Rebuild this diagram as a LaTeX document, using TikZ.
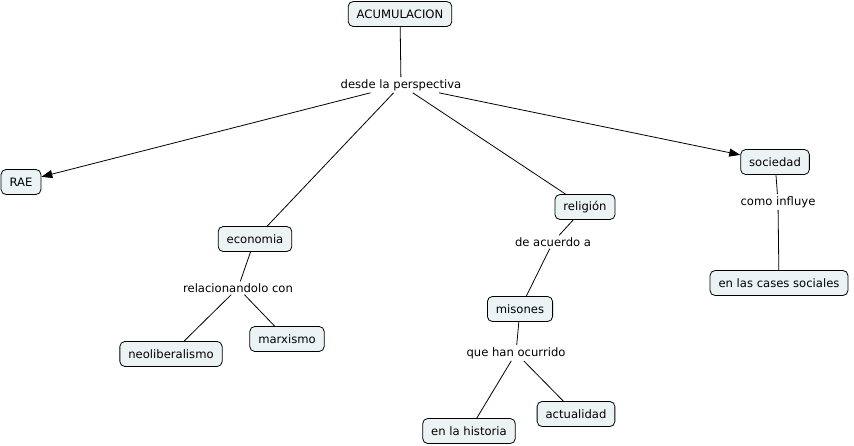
\documentclass[tikz,border=0pt]{standalone}
\usepackage{fontspec}
\setmainfont{DejaVu Sans}
\usetikzlibrary{arrows.meta, positioning}
\definecolor{conceptfill}{RGB}{236,243,245}
\tikzstyle{concept} = [rectangle, rounded corners=5pt, minimum height=25pt, inner xsep=8.5pt, text centered, draw=black, line width=0.8pt, fill=conceptfill]
\tikzstyle{phrase} = [inner sep=2pt, fill=white]
\tikzstyle{line} = [black, line width=0.8pt]
\tikzstyle{arrow} = [line, -{Triangle[length=11pt,width=8pt]}]

\begin{document}
\begin{tikzpicture}[x=1pt, y=-1pt, font=\fontsize{11.6}{13}\selectfont]
				\useasboundingbox (0,0) rectangle (854,445);
				\node (acum)[concept] at (400,14) {ACUMULACION};
				\node (desde)[phrase] at (401,85) {desde la perspectiva};
				\node (rae)[concept] at (21,182) {RAE};
				\node (economia)[concept] at (255,239) {economia};
				\node (religion)[concept] at (585,207) {religión};
				\node (sociedad)[concept] at (775,162) {sociedad};
				\node (como)[phrase] at (778,202) {como influye};
				\node (cases)[concept] at (779,283) {en las cases sociales};
				\node (acuerdo)[phrase] at (553,242) {de acuerdo a};
				\node (misones)[concept] at (520,309) {misones};
				\node (ocurrido)[phrase] at (516,353) {que han ocurrido};
				\node (historia)[concept] at (469,431) {en la historia};
				\node (actualidad)[concept] at (576,414) {actualidad};
				\node (relac)[phrase] at (238,288) {relacionandolo con};
				\node (neolib)[concept] at (171,354) {neoliberalismo};
				\node (marxismo)[concept] at (287,339) {marxismo};
				\draw [line] (acum) -- (desde);
				\draw [arrow] (desde) -- (rae);
				\draw [line] (desde) -- (economia);
				\draw [line] (desde) -- (religion);
				\draw [arrow] (desde) -- (sociedad);
				\draw [line] (sociedad) -- (como);
				\draw [line] (como) -- (cases);
				\draw [line] (religion) -- (acuerdo);
				\draw [line] (acuerdo) -- (misones);
				\draw [line] (misones) -- (ocurrido);
				\draw [line] (ocurrido) -- (historia);
				\draw [line] (ocurrido) -- (actualidad);
				\draw [line] (economia) -- (relac);
				\draw [line] (relac) -- (neolib);
				\draw [line] (relac) -- (marxismo);
\end{tikzpicture}
\end{document}
